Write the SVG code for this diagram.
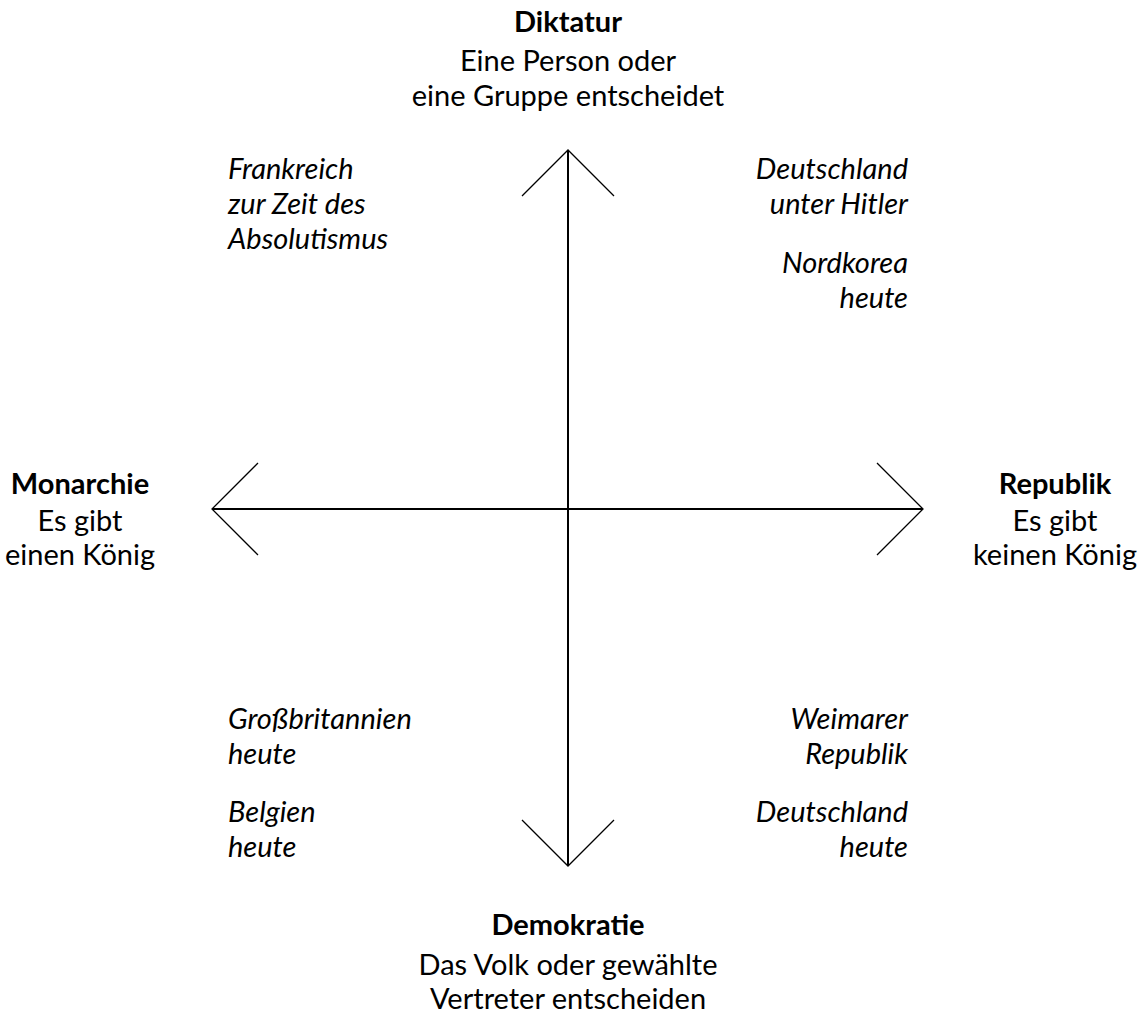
<svg xmlns="http://www.w3.org/2000/svg" width="1139" height="1014" viewBox="0 0 1139 1014">
<style>
text{font-family:Lato,"Noto Sans","DejaVu Sans",sans-serif;font-size:29px;fill:#000}
.b{font-weight:bold}
.i{font-style:italic}
.m{text-anchor:middle}
.e{text-anchor:end}
.axis{stroke:#000;stroke-width:2;fill:none}
.head{stroke:#000;stroke-width:1.3;fill:none}
</style>
<rect width="1139" height="1014" fill="#fff"/>
<g id="connectors">
<line class="axis" x1="568" y1="150" x2="568" y2="865"/>
<line class="axis" x1="213" y1="509" x2="922" y2="509"/>
<polyline class="head" points="522,196 568,150 614,196"/>
<polyline class="head" points="522,820 568,866 614,820"/>
<polyline class="head" points="258,463 212,509 258,555"/>
<polyline class="head" points="877,463 923,509 877,555"/>
</g>
<g id="diktatur">
<text class="b m" x="568" y="32">Diktatur</text>
<text class="m" x="568" y="71">Eine Person oder</text>
<text class="m" x="568" y="106">eine Gruppe entscheidet</text>
</g>
<g id="demokratie">
<text class="b m" x="568" y="935">Demokratie</text>
<text class="m" x="568" y="975">Das Volk oder gewählte</text>
<text class="m" x="568" y="1009">Vertreter entscheiden</text>
</g>
<g id="monarchie">
<text class="b m" x="80" y="494">Monarchie</text>
<text class="m" x="80" y="531">Es gibt</text>
<text class="m" x="80" y="565">einen König</text>
</g>
<g id="republik">
<text class="b m" x="1055" y="494">Republik</text>
<text class="m" x="1055" y="531">Es gibt</text>
<text class="m" x="1055" y="565">keinen König</text>
</g>
<g id="frankreich">
<text class="i" x="228" y="179">Frankreich</text>
<text class="i" x="228" y="214">zur Zeit des</text>
<text class="i" x="228" y="249">Absolutismus</text>
</g>
<g id="deutschland-hitler">
<text class="i e" x="908" y="179">Deutschland</text>
<text class="i e" x="908" y="214">unter Hitler</text>
</g>
<g id="nordkorea">
<text class="i e" x="908" y="273">Nordkorea</text>
<text class="i e" x="908" y="308">heute</text>
</g>
<g id="grossbritannien">
<text class="i" x="228" y="729">Großbritannien</text>
<text class="i" x="228" y="764">heute</text>
</g>
<g id="belgien">
<text class="i" x="228" y="822">Belgien</text>
<text class="i" x="228" y="857">heute</text>
</g>
<g id="weimar">
<text class="i e" x="908" y="729">Weimarer</text>
<text class="i e" x="908" y="764">Republik</text>
</g>
<g id="deutschland-heute">
<text class="i e" x="908" y="822">Deutschland</text>
<text class="i e" x="908" y="857">heute</text>
</g>
</svg>
